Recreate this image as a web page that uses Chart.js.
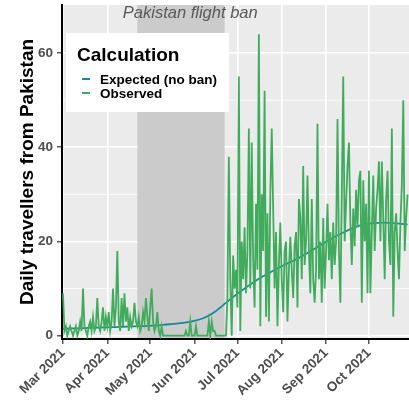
<!DOCTYPE html>
<html>
<head>
<meta charset="utf-8">
<script src="https://cdn.jsdelivr.net/npm/chart.js@4.4.0/dist/chart.umd.min.js"></script>
<style>
  html, body { margin: 0; padding: 0; background: #fff; }
</style>
</head>
<body>
<canvas id="chart" width="409" height="408"></canvas>
<script>
// daily travellers, one value per day starting 1 Mar 2021
const observed = [
  9, 1, 2, 0, 1, 2, 1, 0, 1, 2,
  0, 1, 3, 1, 10, 2, 1, 0, 2, 3,
  1, 4, 1, 2, 8, 2, 1, 3, 6, 1,
  4, 2, 5, 1, 3, 10, 2, 6, 18, 3,
  1, 8, 2, 9, 3, 6, 1, 4, 2, 3,
  7, 3,
  // ban period
  2, 4, 1, 2, 5, 3, 8, 4, 1, 6, 10, 3, 1, 2, 5, 1, 0, 2,
  0, 0, 0, 0, 0, 0, 0, 0, 0, 0, 0, 0, 0, 0, 0, 0,
  1, 0, 0, 3, 0, 0, 0, 2, 0, 0,
  0, 0, 0, 0, 0, 0, 3, 0, 3, 1,
  1, 0, 0, 0, 0, 0, 0, 0,
  // after ban
  0, 8, 38, 12, 0, 17, 10, 14, 6, 55,
  1, 20, 12, 23, 9, 18, 44, 10, 41, 16,
  6, 28, 14, 64, 2, 30, 18, 52, 4, 26,
  3, 30, 44, 27, 10, 22, 2, 15, 24, 12,
  5, 18, 20, 3, 14, 21, 14, 8, 19, 22,
  6, 29, 25, 12, 36, 15, 20, 34, 18, 9,
  29, 12, 7, 14, 45, 12, 20, 7, 25, 10,
  18, 28, 16, 22, 12, 24, 15, 20, 46, 18,
  7, 30, 55, 20, 28, 36, 41, 24, 15, 27,
  19, 31, 23, 33, 35, 7, 33, 20, 28, 9,
  35, 9, 22, 34, 18, 27, 31, 37, 20, 37,
  25, 12, 29, 35, 20, 15, 44, 4, 22, 26,
  18, 12, 24, 32, 50, 18, 25, 30
];

const expectedDays = [0, 7, 14, 21, 28, 35, 42, 49, 56, 63, 70, 77, 84, 91, 98, 105, 112, 119,
  126, 133, 140, 147, 154, 161, 168, 175, 182, 189, 196, 203, 210, 217, 224, 231, 238, 241];
const expectedValues = [1.5, 1.55, 1.6, 1.7, 1.75, 1.8, 1.9, 2.0, 2.05, 2.15, 2.3, 2.5, 2.7, 3.1, 3.7, 4.8, 6.5, 8.2,
  9.8, 11.3, 12.6, 13.8, 14.9, 15.9, 17.0, 18.3, 19.6, 20.8, 21.9, 22.9, 23.6, 23.9, 24.0, 23.9, 23.7, 23.6];

const monthTicks = [0, 31, 61, 92, 122, 153, 184, 214];
const monthLabels = ['Mar 2021', 'Apr 2021', 'May 2021', 'Jun 2021', 'Jul 2021', 'Aug 2021', 'Sep 2021', 'Oct 2021'];
const yTicks = [0, 20, 40, 60];
const yMinor = [10, 30, 50];
const banDays = [52, 113];   // 22 Apr - 22 Jun
const banLabelDay = 89;

const FONT = "'Liberation Sans', Arial, sans-serif";
const GREEN = '#41AB5D';
const TEAL = '#178A98';

const panel = {
  id: 'panel',
  beforeDraw(chart) {
    const { ctx, chartArea: a, scales: { y } } = chart;
    ctx.save();
    ctx.fillStyle = '#EBEBEB';
    ctx.fillRect(a.left, a.top, a.right - a.left, a.bottom - a.top);
    ctx.strokeStyle = '#fff';
    ctx.lineWidth = 0.8;
    yMinor.forEach(v => {
      const py = y.getPixelForValue(v);
      ctx.beginPath();
      ctx.moveTo(a.left, py);
      ctx.lineTo(a.right, py);
      ctx.stroke();
    });
    ctx.restore();
  },
  beforeDatasetsDraw(chart) {
    const { ctx, chartArea: a, scales: { x } } = chart;
    const x0 = x.getPixelForValue(banDays[0]);
    const x1 = x.getPixelForValue(banDays[1]);
    ctx.save();
    ctx.fillStyle = '#CBCBCB';
    ctx.fillRect(x0, a.top, x1 - x0, a.bottom - a.top - 1);
    ctx.restore();
  },
  afterDraw(chart) {
    const { ctx, chartArea: a, scales: { x } } = chart;
    ctx.save();
    // annotation
    ctx.fillStyle = '#595959';
    ctx.font = 'italic 16.5px ' + FONT;
    ctx.textAlign = 'center';
    ctx.textBaseline = 'middle';
    ctx.fillText('Pakistan flight ban', x.getPixelForValue(banLabelDay), a.top + 8);

    // legend
    const lx = a.left + 4, ly = a.top + 28;
    ctx.fillStyle = '#fff';
    ctx.fillRect(lx, ly, 163, 79);
    ctx.fillStyle = '#000';
    ctx.textAlign = 'left';
    ctx.textBaseline = 'alphabetic';
    ctx.font = 'bold 19px ' + FONT;
    ctx.fillText('Calculation', lx + 11, ly + 28);
    ctx.font = 'bold 13.5px ' + FONT;
    ctx.textBaseline = 'middle';
    [['Expected (no ban)', TEAL], ['Observed', GREEN]].forEach(([t, c], i) => {
      const yy = ly + 46 + i * 14;
      ctx.strokeStyle = c;
      ctx.lineWidth = 2;
      ctx.beginPath();
      ctx.moveTo(lx + 16, yy);
      ctx.lineTo(lx + 24, yy);
      ctx.stroke();
      ctx.fillStyle = '#000';
      ctx.fillText(t, lx + 34, yy + 1);
    });
    ctx.restore();
  }
};

new Chart(document.getElementById('chart'), {
  type: 'line',
  data: {
    datasets: [{
      label: 'Observed',
      data: observed.map((v, i) => ({ x: i, y: v })),
      borderColor: GREEN,
      borderWidth: 1.8,
      tension: 0,
      order: 0
    }, {
      label: 'Expected (no ban)',
      data: expectedDays.map((d, i) => ({ x: d, y: expectedValues[i] })),
      borderColor: TEAL,
      borderWidth: 1.8,
      cubicInterpolationMode: 'monotone',
      order: 1
    }]
  },
  options: {
    responsive: false,
    animation: false,
    devicePixelRatio: 1,
    layout: { padding: { top: 5, left: 0, right: 0, bottom: 0 } },
    plugins: { legend: { display: false }, tooltip: { enabled: false } },
    elements: { point: { radius: 0 } },
    scales: {
      x: {
        type: 'linear',
        min: -0.7,
        max: 242,
        afterBuildTicks: s => { s.ticks = monthTicks.map(v => ({ value: v })); },
        afterFit: s => { s.height = 69; s.paddingLeft = 0; s.paddingRight = 0; },
        grid: { color: '#fff', lineWidth: 1.6, tickColor: '#333', tickLength: 5, tickWidth: 1.2 },
        border: { color: '#000', width: 2 },
        ticks: {
          autoSkip: false,
          minRotation: 45,
          maxRotation: 45,
          padding: 1,
          color: '#4D4D4D',
          font: { family: FONT, size: 13.5, weight: 'bold' },
          callback: v => monthLabels[monthTicks.indexOf(v)] || ''
        }
      },
      y: {
        min: -0.7,
        max: 70.2,
        afterBuildTicks: s => { s.ticks = yTicks.map(v => ({ value: v })); },
        afterFit: s => { s.width = 62; s.paddingTop = 0; s.paddingBottom = 0; },
        grid: { color: '#fff', lineWidth: 1.6, tickColor: '#333', tickLength: 5, tickWidth: 1.2 },
        border: { color: '#000', width: 2 },
        ticks: {
          padding: 4,
          color: '#4D4D4D',
          font: { family: FONT, size: 13.5, weight: 'bold' }
        },
        title: {
          display: true,
          text: 'Daily travellers from Pakistan',
          color: '#000',
          font: { family: FONT, size: 19, weight: 'bold' },
          padding: { top: 16, bottom: 0 }
        }
      }
    }
  },
  plugins: [panel]
});
</script>
</body>
</html>
